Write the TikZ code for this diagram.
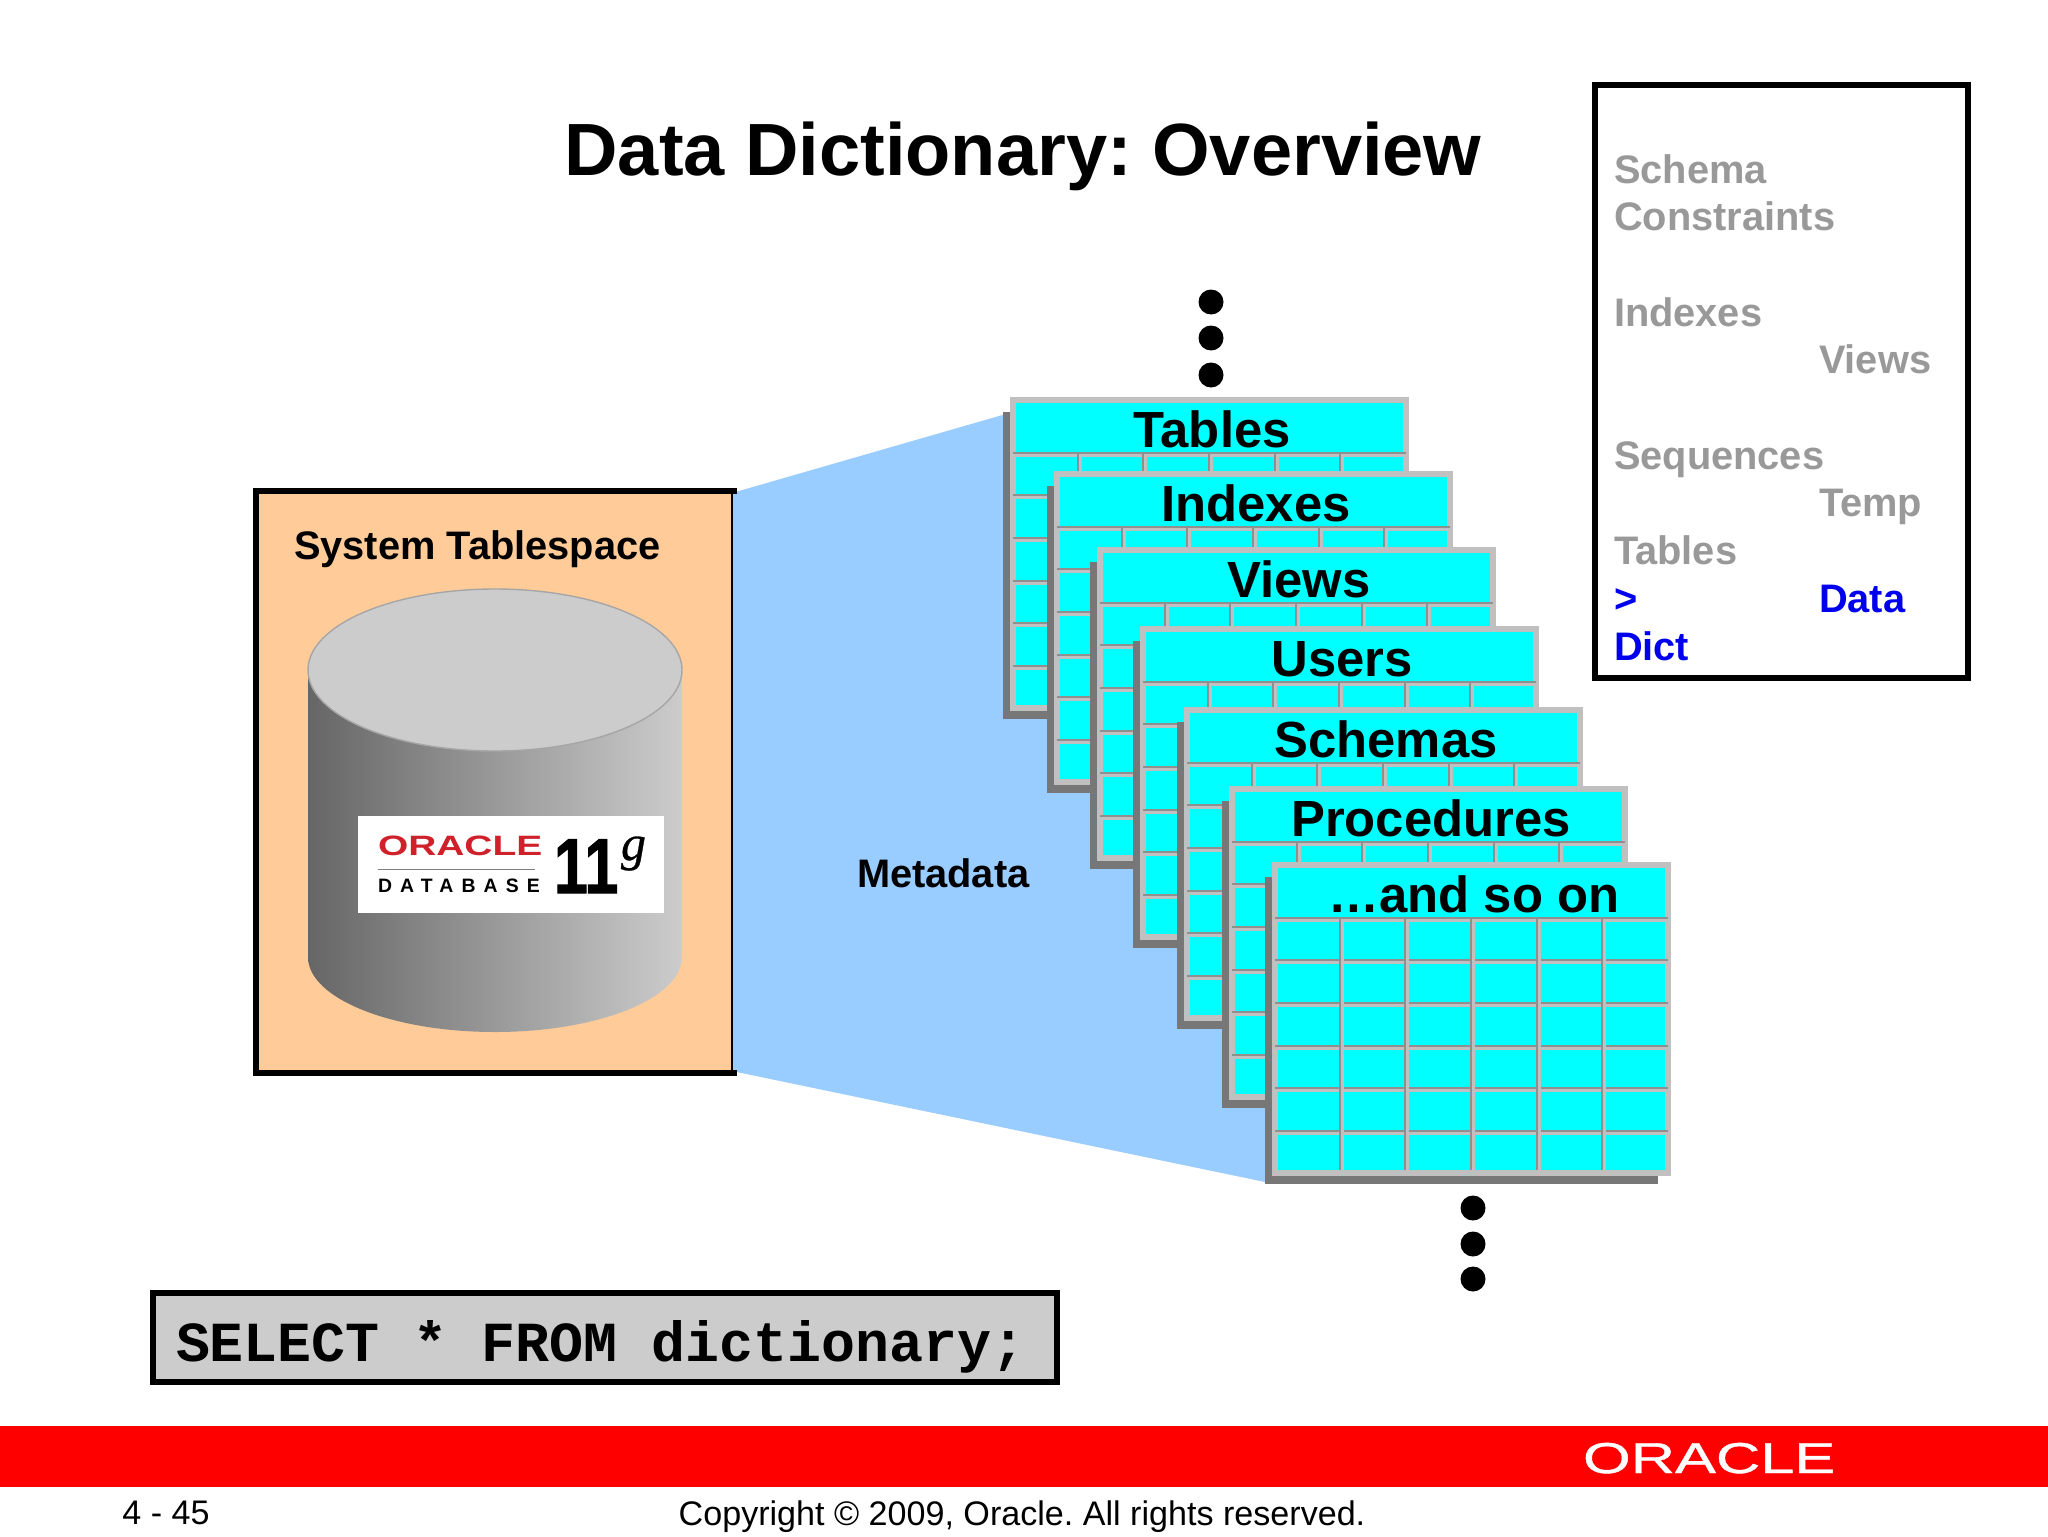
\documentclass[tikz,border=0pt]{standalone}
\usepackage{fontspec}
\setmainfont{Liberation Sans}
\newfontfamily\codefont{Liberation Mono}
\newfontfamily\gfont{Liberation Serif}
\newfontfamily\spacedfont[LetterSpace=42]{Liberation Sans}
\usetikzlibrary{positioning}

\definecolor{metablue}{HTML}{99CCFF}
\definecolor{spaceorange}{HTML}{FFCC99}
\definecolor{cellcyan}{HTML}{00FFFF}
\definecolor{framegray}{HTML}{C0C0C0}
\definecolor{lineshade}{HTML}{8F8F8F}
\definecolor{shadowgray}{HTML}{777777}
\definecolor{agendagray}{HTML}{999999}
\definecolor{agendablue}{HTML}{0000EE}
\definecolor{logored}{HTML}{D0202A}

\tikzset{
	every node/.style={inner sep=0pt, outer sep=0pt},
	titletext/.style={anchor=base, font=\bfseries\fontsize{37}{44}\selectfont},
	boxlabel/.style={anchor=base west, font=\bfseries\fontsize{19.9}{24}\selectfont},
	tablelabel/.style={anchor=base, font=\bfseries\fontsize{25.4}{30}\selectfont},
	agendaline/.style={text height=18pt, text depth=5.85pt, font=\bfseries\fontsize{19.9}{24}\selectfont, text=agendagray},
	agendanow/.style={agendaline, text=agendablue},
	dotmark/.style={circle, fill=black, minimum size=12.5pt},
	footertext/.style={anchor=base, font=\fontsize{17.05}{20}\selectfont}
}

% One table of the stack, top left corner at (#2,#3)
\newcommand{\dbtable}[4]{%
	\begin{scope}[shift={(#2,#3)}]
		\fill[shadowgray] (-7,15) rectangle (386,322);
		\fill[framegray] (0,0) rectangle (399,314);
		\fill[cellcyan] (6,6) rectangle (393,308);
		\foreach \yy in {57,99,142,185,227,270} {
			\fill[framegray] (3,\yy-2) rectangle (396,\yy+3);
			\fill[lineshade] (3,\yy-2) rectangle (396,\yy);
		}
		\foreach \xx in {69,134,200,266,331} {
			\fill[framegray] (\xx-2,57) rectangle (\xx+3,308);
			\fill[lineshade] (\xx-2,57) rectangle (\xx,308);
		}
		\node[tablelabel] (#1) at (202,50) {#4};
	\end{scope}
}

\begin{document}
\frenchspacing
\begin{tikzpicture}[x=.5pt, y=-.5pt]
	\useasboundingbox (0,0) rectangle (2048,1536);
	\fill[white] (0,0) rectangle (2048,1536);

	% Title
	\node[titletext] (title) at (1023,175) {Data Dictionary: Overview};

	% Metadata wedge
	\fill[metablue] (732,493) -- (1006,414) -- (1265,414) -- (1265,1182) -- (732,1071) -- cycle;
	\node[boxlabel] (metadata) at (857,887) {Metadata};

	% System tablespace
	\fill[spaceorange] (256,491) rectangle (732,1073);
	\draw[line width=3pt] (737,491) -- (256,491) -- (256,1073) -- (737,1073);
	\draw[line width=1pt] (732,491) -- (732,1073);
	\node[boxlabel] (tablespace) at (294,559) {System Tablespace};

	% Cylinder
	\shade[left color=black!60, right color=black!20] (308,670) -- (308,957) arc[start angle=180, end angle=0, x radius=187, y radius=75] -- (682,670) -- cycle;
	\draw[fill=black!20, draw=black!35, line width=.7pt] (495,670) ellipse[x radius=187, y radius=81];

	% Logo
	\fill[white] (358,816) rectangle (664,913);
	\node[anchor=base west, text=logored] (logoname) at (378,855) {\scalebox{1.39}[1]{\bfseries\fontsize{14}{16}\selectfont ORACLE}};
	\node[anchor=base west] (logosub) at (378,892) {\spacedfont\bfseries\fontsize{9.7}{11}\selectfont DATABASE};
	\node[anchor=base west] (logoeleven) at (554,893) {\scalebox{.78}[1]{\bfseries\addfontfeature{FakeBold=1.5}\fontsize{39}{44}\selectfont 11}};
	\node[anchor=base west] (logog) at (621,860) {\gfont\itshape\addfontfeature{FakeBold=.6}\fontsize{25}{28}\selectfont g};
	\draw[black!50, line width=.5pt] (logosub.north west |- 0,869) -- (535,869);

	% Tables
	\dbtable{tables}{1010}{397}{Tables}
	\dbtable{indexes}{1054}{471}{Indexes}
	\dbtable{views}{1097}{547}{Views}
	\dbtable{users}{1140}{626}{Users}
	\dbtable{schemas}{1184}{707}{Schemas}
	\dbtable{procedures}{1229}{786}{Procedures}
	\dbtable{andsoon}{1272}{862}{…and so on}

	% Dots
	\foreach \yy [count=\i] in {302,338,375} {
		\node[dotmark] (topdot\i) at (1211,\yy) {};
	}
	\foreach \yy [count=\i] in {1208,1244,1279} {
		\node[dotmark] (bottomdot\i) at (1473,\yy) {};
	}

	% Agenda
	\draw[line width=3pt, fill=white] (1595,85) rectangle (1968,678);
	\node[agendaline, anchor=north west] (schema) at (1614,147) {Schema};
	\node[agendaline, below right=0pt and 0pt of schema.south west] (constraints) {Constraints};
	\node[agendaline, below right=23.85pt and 0pt of constraints.south west] (indexesitem) {Indexes};
	\node[agendaline, below right=0pt and 102.5pt of indexesitem.south west] (viewsitem) {Views};
	\node[agendaline, below right=47.7pt and 0pt of indexesitem.south west] (sequences) {Sequences};
	\node[agendaline, below right=0pt and 102.5pt of sequences.south west] (tempitem) {Temp};
	\node[agendaline, below right=23.85pt and 0pt of sequences.south west] (tablesitem) {Tables};
	\node[agendanow, below right=0pt and 0pt of tablesitem.south west] (marker) {>};
	\node[agendanow, below right=0pt and 102.5pt of tablesitem.south west] (dataitem) {Data};
	\node[agendanow, below right=0pt and 0pt of marker.south west] (dictitem) {Dict};

	% Query
	\draw[line width=3pt, fill=black!20] (153,1293) rectangle (1057,1382);
	\node[anchor=base west, font=\codefont\bfseries\fontsize{28.3}{34}\selectfont] (query) at (176,1361) {SELECT * FROM dictionary;};

	% Footer
	\fill[red] (0,1426) rectangle (2048,1487);
	\node[anchor=base west, text=white] (footerlogo) at (1583,1473) {\scalebox{1.42}[1]{\addfontfeature{FakeBold=.8}\fontsize{21.6}{26}\selectfont ORACLE}};
	\node[footertext] (pagenum) at (166,1524) {4 - 45};
	\node[footertext] (copyright) at (1022,1525) {Copyright © 2009, Oracle. All rights reserved.};
\end{tikzpicture}
\end{document}
